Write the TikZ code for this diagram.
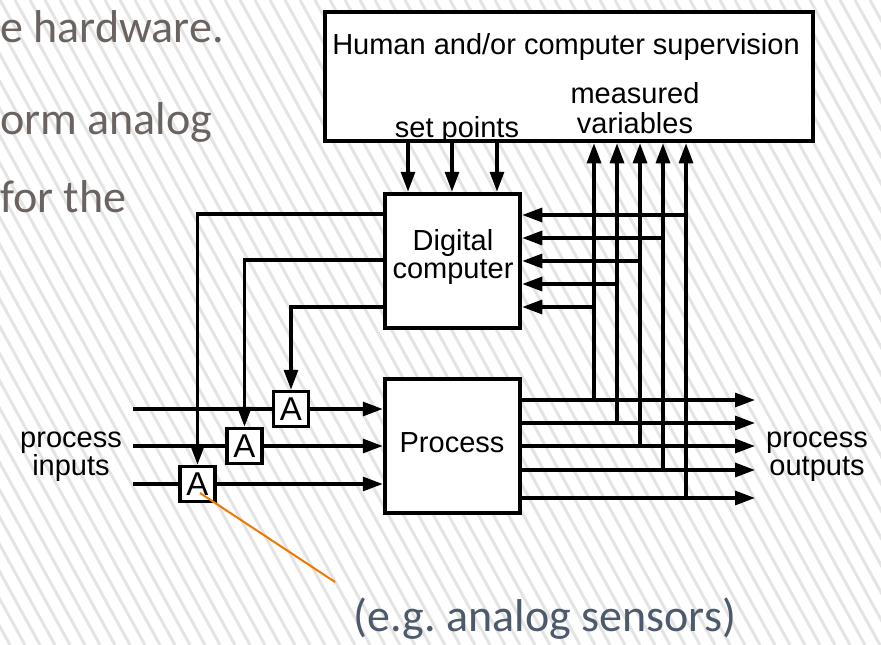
\documentclass[tikz,border=0pt]{standalone}
\usepackage{fontspec}
\setsansfont{Liberation Sans}
\newfontfamily\slidefont{Carlito}
\usetikzlibrary{arrows.meta}
\definecolor{slidetext}{RGB}{106,99,95}
\definecolor{notetext}{RGB}{77,90,107}
\definecolor{calloutorange}{RGB}{240,120,0}
\definecolor{hatch}{RGB}{228,228,228}
\frenchspacing

\begin{document}
\begin{tikzpicture}[>={Triangle[length=20pt,width=14pt]}, x=1pt, y=-1pt]

\tikzset{
  block/.style={
    draw,
    line width=4.5pt,
    fill=white,
    inner sep=0pt
  },
  abox/.style={
    draw,
    line width=3.5pt,
    fill=white,
    inner sep=0pt,
    minimum size=35pt,
    font=\sffamily\fontsize{33}{33}\selectfont
  },
  lbl/.style={
    inner sep=0pt,
    align=center,
    font=\sffamily\fontsize{29}{29}\selectfont
  },
  wire/.style={line width=3.2pt},
  slide/.style={
    inner sep=0pt,
    anchor=base west,
    text=slidetext,
    font=\slidefont\fontsize{46}{46}\selectfont
  },
  callout/.style={draw=calloutorange, line width=2pt}
}

\useasboundingbox (0,0) rectangle (881,645);

% striped slide background and the slide text behind the figure
\begin{scope}
  \clip (0,0) rectangle (881,645);
  \foreach \h in {-26,...,60} {
    \draw[hatch, line width=3pt] (\h*15,0) -- ++(355,645);
  }
  \node[slide] (line1) at (0,42)  {e hardware.};
  \node[slide] (line2) at (0,134) {orm analog};
  \node[slide] (line3) at (0,212) {for the};
\end{scope}

% blocks
\node[block, minimum width=488pt, minimum height=129pt] (sup)     at (569,76.5) {};
\node[block, minimum width=135pt, minimum height=134pt] (digital) at (452.5,261) {};
\node[block, minimum width=135pt, minimum height=134pt] (proc)    at (452.5,446) {};

\node[lbl, anchor=base] (suptxt)  at (566,54)  {Human and/or computer supervision};
\node[lbl, anchor=base] (meas)    at (635,103) {measured};
\node[lbl, anchor=base] (vars)    at (635,133) {variables};
\node[lbl, anchor=base] (setpts)  at (457,137) {set points};
\node[lbl, anchor=base] (dig1)    at (453,250) {Digital};
\node[lbl, anchor=base] (dig2)    at (453,278) {computer};
\node[lbl, anchor=base] (proctxt) at (452,452) {Process};
\node[lbl, anchor=base] (in1)     at (71,447)  {process};
\node[lbl, anchor=base] (in2)     at (71,475)  {inputs};
\node[lbl, anchor=base] (out1)    at (817,447) {process};
\node[lbl, anchor=base] (out2)    at (817,475) {outputs};

% converters on the input lines
\coordinate (src1) at (133,409);
\coordinate (src2) at (133,446);
\coordinate (src3) at (133,484);

\draw[wire] (src1) -- (291,409);
\draw[wire] (src2) -- (245,446);
\draw[wire] (src3) -- (197.5,484);

\node[abox] (a1) at (291,409)   {A};
\node[abox] (a2) at (244.5,446) {A};
\node[abox] (a3) at (197.5,484) {A};

\draw[->, wire] (a1.east) -- (proc.west |- a1);
\draw[->, wire] (a2.east) -- (proc.west |- a2);
\draw[->, wire] (a3.east) -- (proc.west |- a3);

% set points down to the computer
\foreach \sx in {408,452,497} {
  \draw[->, wire] (\sx,0 |- sup.south) -- (\sx,0 |- digital.north);
}

% computer outputs to the converters
\draw[->, wire] (digital.west |- 0,214) -| (a3.north);
\draw[->, wire] (digital.west |- 0,260) -| (a2.north);
\draw[->, wire] (digital.west |- 0,307) -| (a1.north);

% process outputs, measured variables and feedback to the computer
\foreach \mx/\oy/\dy [count=\k] in {594/400/307, 617/423/284, 640/446/261, 663/470/238, 686/498/215} {
  \coordinate (po\k) at (755,\oy);
  \coordinate (mv\k) at (\mx,\oy);
  \draw[->, wire] (proc.east |- po\k) -- (po\k);
  \draw[->, wire] (mv\k) -- (mv\k |- sup.south);
  \draw[->, wire] (\mx,\dy) -- (digital.east |- 0,\dy);
}

% callout
\coordinate (pin) at (200,493);
\coordinate (pinend) at (335,582);
\draw[callout] (pin) -- (pinend);
\node[inner sep=0pt, anchor=base, text=notetext, font=\slidefont\fontsize{46}{46}\selectfont] (note) at (545,631) {(e.g. analog sensors)};

\end{tikzpicture}
\end{document}
